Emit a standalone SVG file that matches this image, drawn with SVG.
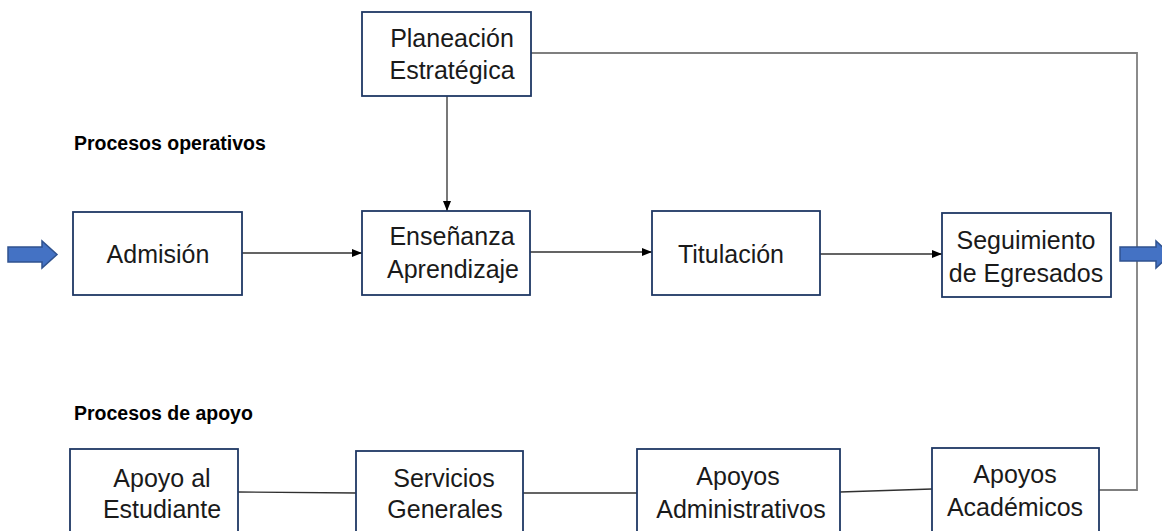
<svg xmlns="http://www.w3.org/2000/svg" width="1162" height="531" viewBox="0 0 1162 531">
<style>
.box{fill:#fff;stroke:#1f3864;stroke-width:1.8}
.t{font-family:"Liberation Sans",Arial,sans-serif;font-size:25px;fill:#1a1a1a;text-anchor:middle}
.h{font-family:"Liberation Sans",Arial,sans-serif;font-size:19.5px;font-weight:bold;fill:#000}
.arr{fill:none;stroke:#303030;stroke-width:1.3}
.ln{fill:none;stroke:#303030;stroke-width:1.3}
.gray{fill:none;stroke:#7f7f7f;stroke-width:1.8}
.blk{fill:#4472c4;stroke:#2f528f;stroke-width:1.5}
</style>
<defs>
<marker id="ah" markerWidth="10" markerHeight="8" refX="10" refY="4" orient="auto" markerUnits="userSpaceOnUse">
<path d="M0,0 L10,4 L0,8 Z" fill="#000"/>
</marker>
</defs>
<g id="connectors">
<path class="arr" d="M447,96 L447,211" marker-end="url(#ah)"/>
<path class="arr" d="M242,253 L362,253" marker-end="url(#ah)"/>
<path class="arr" d="M530,252 L652,252" marker-end="url(#ah)"/>
<path class="arr" d="M820,254 L942,254" marker-end="url(#ah)"/>
<path class="gray" d="M531,53 L1137,53 L1137,490 L1099,490"/>
<path class="ln" d="M238,492 L356,493"/>
<path class="ln" d="M523,493 L637,493"/>
<path class="ln" d="M840,492 L932,489"/>
</g>
<g id="labels">
<text class="h" x="74" y="150">Procesos operativos</text>
<text class="h" x="74" y="420">Procesos de apoyo</text>
</g>
<g id="in-arrow">
<path class="blk" d="M8,247 L42,247 L42,241 L57,254.5 L42,268 L42,262 L8,262 Z"/>
</g>
<g id="out-arrow">
<path class="blk" d="M1120,247 L1156,247 L1156,241 L1171,254.5 L1156,268 L1156,261 L1120,261 Z"/>
</g>
<g id="planeacion">
<rect class="box" x="362" y="12" width="169" height="84"/>
<text class="t" x="452" y="47">Planeación</text>
<text class="t" x="452" y="79">Estratégica</text>
</g>
<g id="admision">
<rect class="box" x="73" y="212" width="169" height="83"/>
<text class="t" x="158" y="263">Admisión</text>
</g>
<g id="ensenanza">
<rect class="box" x="362" y="211" width="168" height="84"/>
<text class="t" x="452" y="245">Enseñanza</text>
<text class="t" x="453" y="278">Aprendizaje</text>
</g>
<g id="titulacion">
<rect class="box" x="652" y="211" width="168" height="84"/>
<text class="t" x="731" y="263">Titulación</text>
</g>
<g id="seguimiento">
<rect class="box" x="942" y="213" width="169" height="84"/>
<text class="t" x="1026" y="249">Seguimiento</text>
<text class="t" x="1026" y="282">de Egresados</text>
</g>
<g id="apoyo-estudiante">
<rect class="box" x="70" y="449" width="168" height="90"/>
<text class="t" x="162" y="487">Apoyo al</text>
<text class="t" x="162" y="518">Estudiante</text>
</g>
<g id="servicios">
<rect class="box" x="356" y="451" width="167" height="90"/>
<text class="t" x="444" y="487">Servicios</text>
<text class="t" x="445" y="518">Generales</text>
</g>
<g id="administrativos">
<rect class="box" x="637" y="449" width="203" height="90"/>
<text class="t" x="738" y="485">Apoyos</text>
<text class="t" x="741" y="518">Administrativos</text>
</g>
<g id="academicos">
<rect class="box" x="932" y="448" width="167" height="90"/>
<text class="t" x="1015" y="483">Apoyos</text>
<text class="t" x="1015" y="516">Académicos</text>
</g>
</svg>
